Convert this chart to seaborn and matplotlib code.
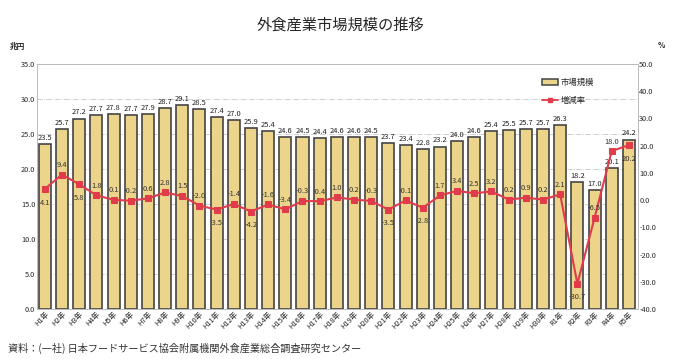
import numpy as np
import pandas as pd
import matplotlib
matplotlib.use("Agg")
import matplotlib.pyplot as plt
import seaborn as sns
from matplotlib.patches import Patch
from matplotlib.lines import Line2D

# data
years = ["H1年", "H2年", "H3年", "H4年", "H5年", "H6年", "H7年", "H8年", "H9年", "H10年",
         "H11年", "H12年", "H13年", "H14年", "H15年", "H16年", "H17年", "H18年", "H19年", "H20年",
         "H21年", "H22年", "H23年", "H24年", "H25年", "H26年", "H27年", "H28年", "H29年", "H30年",
         "R1年", "R2年", "R3年", "R4年", "R5年"]
market_size = [23.5, 25.7, 27.2, 27.7, 27.8, 27.7, 27.9, 28.7, 29.1, 28.5,
               27.4, 27.0, 25.9, 25.4, 24.6, 24.5, 24.4, 24.6, 24.6, 24.5,
               23.7, 23.4, 22.8, 23.2, 24.0, 24.6, 25.4, 25.5, 25.7, 25.7,
               26.3, 18.2, 17.0, 20.1, 24.2]
growth_rate = [4.1, 9.4, 5.8, 1.8, 0.1, -0.2, 0.6, 2.8, 1.5, -2.0,
               -3.5, -1.4, -4.2, -1.6, -3.4, -0.3, -0.4, 1.0, 0.2, -0.3,
               -3.5, -0.1, -2.8, 1.7, 3.4, 2.5, 3.2, 0.2, 0.9, 0.2,
               2.1, -30.7, -6.5, 18.0, 20.2]

df = pd.DataFrame({"year": years, "size": market_size, "rate": growth_rate})
df["pos"] = np.arange(len(df))

# labels of the rate line that sit under the marker
below = {"H1年", "H3年", "H11年", "H13年", "H21年", "H23年", "R2年", "R5年"}

sns.set_theme(style="white")
plt.rcParams["font.family"] = ["Noto Sans CJK JP", "DejaVu Sans"]

fig = plt.figure(figsize=(6.8, 3.59), dpi=100)
ax = fig.add_axes([0.054, 0.139, 0.884, 0.683])

bar_color = "#ecd48a"
sns.barplot(data=df, x="year", y="size", color=bar_color, width=0.7,
            edgecolor="#444444", linewidth=1.2, saturation=1, ax=ax)
ax.bar_label(ax.containers[0], fmt="%.1f", padding=1.5, fontsize=5.4, color="#222222")

ax.set_ylim(0, 35)
ax.set_yticks(np.arange(0, 35.1, 5))
ax.set_yticklabels([f"{v:.1f}" for v in np.arange(0, 35.1, 5)], fontsize=5.3)
ax.set_xlim(-0.47, len(df) - 0.48)
ax.set_xlabel("")
ax.set_ylabel("")
ax.tick_params(axis="x", labelsize=5.3, rotation=45, pad=1, length=0)
ax.tick_params(axis="y", pad=1, length=0)
for lbl in ax.get_xticklabels():
    lbl.set_ha("right")
    lbl.set_rotation_mode("anchor")
ax.yaxis.grid(True, color="#c8c8c8", linestyle="-.", linewidth=0.6)
ax.set_axisbelow(True)
for s in ax.spines.values():
    s.set_color("#bbbbbb")
    s.set_linewidth(0.6)

ax2 = ax.twinx()
line_color = "#e03c4c"
sns.lineplot(data=df, x="pos", y="rate", color=line_color, linewidth=1.5,
             marker="s", markersize=4.5, markeredgecolor=line_color, ax=ax2)
ax2.set_ylim(-40, 50)
ax2.set_yticks(np.arange(-40, 50.1, 10))
ax2.set_yticklabels([f"{v:.1f}" for v in np.arange(-40, 50.1, 10)], fontsize=5.3)
ax2.tick_params(axis="y", pad=1, length=0)
ax2.set_ylabel("")
ax2.set_xlabel("")
for s in ax2.spines.values():
    s.set_color("#bbbbbb")
    s.set_linewidth(0.6)

for _, r in df.iterrows():
    dy = -7 if r["year"] in below else 4
    va = "top" if dy < 0 else "bottom"
    ax2.annotate(f"{r['rate']:.1f}", (r["pos"], r["rate"]), xytext=(0, dy),
                 textcoords="offset points", ha="center", va=va,
                 fontsize=5.4, color="#333333")

handles = [Patch(facecolor=bar_color, edgecolor="#444444", linewidth=1.1),
           Line2D([], [], color=line_color, marker="s", markersize=3.5, linewidth=1.3)]
ax2.legend(handles, ["市場規模", "増減率"], loc="upper right",
           bbox_to_anchor=(0.94, 0.975), frameon=False, fontsize=6,
           handlelength=2.0, handletextpad=0.3, labelspacing=1.1)

fig.text(0.5, 0.93, "外食産業市場規模の推移", ha="center", va="center", fontsize=11)
fig.text(0.015, 0.872, "兆円", ha="left", va="center", fontsize=5.5, fontweight="bold")
fig.text(0.972, 0.872, "%", ha="center", va="center", fontsize=5.5, fontweight="bold")
fig.text(0.012, 0.03, "資料：(一社) 日本フードサービス協会附属機関外食産業総合調査研究センター",
         ha="left", va="center", fontsize=7.3, color="#333333")

fig.savefig("out.png", dpi=100, facecolor="white")
